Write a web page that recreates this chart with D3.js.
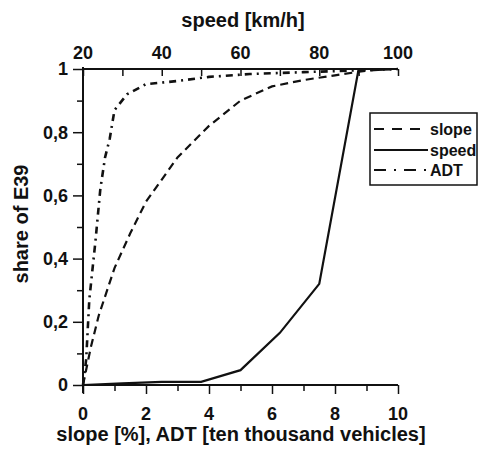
<!DOCTYPE html>
<html><head><meta charset="utf-8">
<script src="https://cdn.jsdelivr.net/npm/d3@7"></script>
<style>
body{margin:0;background:#fff;}
text{font-family:"Liberation Sans",Arial,sans-serif;font-weight:bold;fill:#111;}
</style></head><body>
<svg id="c" width="478" height="450"></svg>
<script>
// Data
const slopeX   = [0, 0.25, 0.5, 1, 1.5, 2, 3, 4, 5, 6, 7, 8, 9, 10];
const slopeY   = [0, 0.12, 0.22, 0.37, 0.48, 0.58, 0.72, 0.82, 0.9, 0.945, 0.965, 0.98, 0.995, 1];
const speedX   = [20, 30, 40, 50, 60, 70, 80, 90, 100];   // km/h
const speedY   = [0, 0.005, 0.01, 0.01, 0.047, 0.165, 0.32, 1, 1];
const adtX     = [0, 0.1, 0.2, 0.4, 0.55, 0.7, 0.85, 1.0, 1.4, 2, 3, 4, 5.3, 7, 10];
const adtY     = [0, 0.08, 0.27, 0.46, 0.62, 0.72, 0.78, 0.87, 0.92, 0.952, 0.962, 0.975, 0.984, 0.99, 1];
const bottomTicks = [0,1,2,3,4,5,6,7,8,9,10];
const bottomLabels = [0,2,4,6,8,10];
const topTicks = [20,30,40,50,60,70,80,90,100];
const topLabels = [20,40,60,80,100];
const leftTicks = [0,0.1,0.2,0.3,0.4,0.5,0.6,0.7,0.8,0.9,1];
const leftLabels = [0,0.2,0.4,0.6,0.8,1];
const legendItems = [
  {name:"slope", dash:"10,8"},
  {name:"speed", dash:null},
  {name:"ADT", dash:"12,8,2,8"}
];

const svg = d3.select("#c");
const x = d3.scaleLinear().domain([0,10]).range([83,398]);
const xTop = d3.scaleLinear().domain([20,100]).range([83,398]);
const y = d3.scaleLinear().domain([0,1]).range([385,69]);
const fmt = v => String(v).replace(".", ",");

// Bottom axis
const gB = svg.append("g").attr("transform","translate(0,385)")
  .call(d3.axisBottom(x).tickValues(bottomTicks).tickSize(8).tickFormat(""));
gB.select(".domain").attr("stroke","#111").attr("stroke-width",2).attr("d","M83,0H398");
gB.selectAll(".tick line").attr("stroke","#111").attr("stroke-width",1.5)
  .attr("y2", d => bottomLabels.includes(d) ? 9 : 6);
svg.selectAll(".bl").data(bottomLabels).enter().append("text")
  .attr("x", d=>x(d)).attr("y",420).attr("text-anchor","middle").attr("font-size",18).text(d=>d);

// Top axis
const gT = svg.append("g").attr("transform","translate(0,69)")
  .call(d3.axisTop(xTop).tickValues(topTicks).tickSize(-7).tickFormat(""));
gT.select(".domain").attr("stroke","#111").attr("stroke-width",2).attr("d","M83,0H398");
gT.selectAll(".tick line").attr("stroke","#111").attr("stroke-width",1.5);
svg.selectAll(".tl").data(topLabels).enter().append("text")
  .attr("x", d=>xTop(d)).attr("y",59).attr("text-anchor","middle").attr("font-size",18).text(d=>d);

// Left axis
const gL = svg.append("g").attr("transform","translate(83,0)")
  .call(d3.axisLeft(y).tickValues(leftTicks).tickSize(9).tickFormat(""));
gL.select(".domain").attr("stroke","#111").attr("stroke-width",2).attr("d","M0,67V393");
gL.selectAll(".tick line").attr("stroke","#111").attr("stroke-width",1.5)
  .attr("x2", d => leftLabels.some(v=>Math.abs(v-d)<1e-9) ? -10 : -6);
svg.selectAll(".ll").data(leftLabels).enter().append("text")
  .attr("x",68).attr("y",d=>y(d)).attr("dy","0.36em").attr("text-anchor","end")
  .attr("font-size",18).text(d=>fmt(d));

// Titles
svg.append("text").attr("x",243).attr("y",27).attr("text-anchor","middle").attr("font-size",20).text("speed [km/h]");
svg.append("text").attr("x",241).attr("y",441).attr("text-anchor","middle").attr("font-size",20).text("slope [%], ADT [ten thousand vehicles]");
svg.append("text").attr("transform","translate(28,224) rotate(-90)").attr("text-anchor","middle").attr("font-size",20).text("share of E39");

// Lines
const line = d3.line();
svg.append("path").datum(slopeX.map((v,i)=>[x(v),y(slopeY[i])]))
  .attr("d",line).attr("fill","none").attr("stroke","#111").attr("stroke-width",2.2).attr("stroke-dasharray","8,5");
svg.append("path").datum(speedX.map((v,i)=>[xTop(v),y(speedY[i])]))
  .attr("d",line).attr("fill","none").attr("stroke","#111").attr("stroke-width",2.2);
svg.append("path").datum(adtX.map((v,i)=>[x(v),y(adtY[i])]))
  .attr("d",line).attr("fill","none").attr("stroke","#111").attr("stroke-width",2.6).attr("stroke-dasharray","7,5,2,5");

// Legend
const lg = svg.append("g");
lg.append("rect").attr("x",370).attr("y",113).attr("width",107).attr("height",72)
  .attr("fill","#fff").attr("stroke","#111").attr("stroke-width",1.5);
const rowsY = [129,150,170];
legendItems.forEach((it,i)=>{
  const l = lg.append("line").attr("x1",374).attr("x2",428).attr("y1",rowsY[i]).attr("y2",rowsY[i])
    .attr("stroke","#111").attr("stroke-width",2.2);
  if(it.dash) l.attr("stroke-dasharray",it.dash);
  lg.append("text").attr("x",430).attr("y",rowsY[i]).attr("dy","0.36em").attr("font-size",16).text(it.name);
});
</script>
</body></html>
